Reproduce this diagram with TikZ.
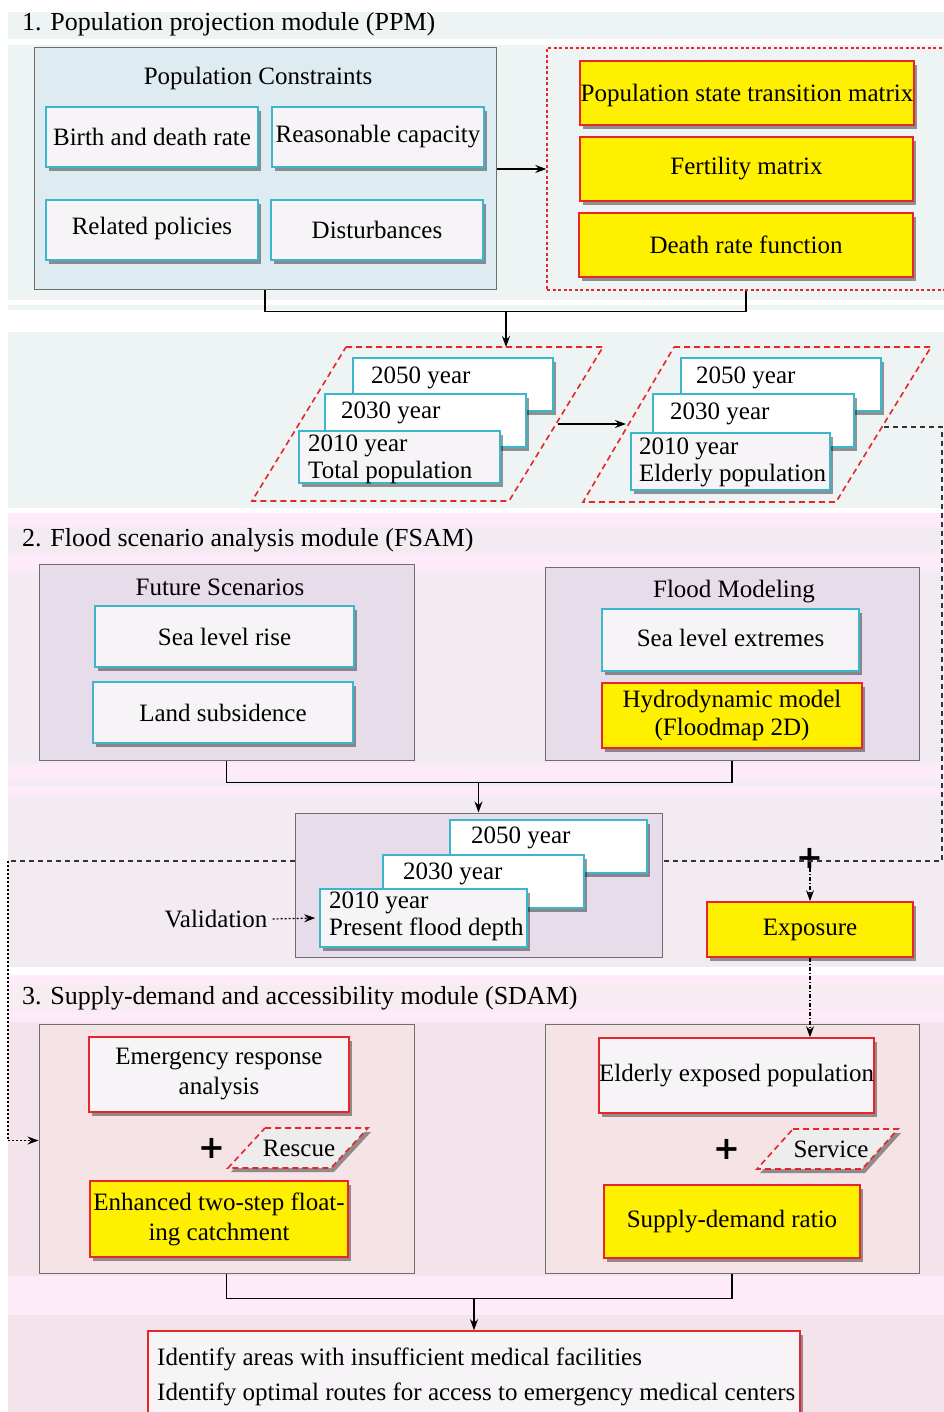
\documentclass[tikz,border=0pt]{standalone}
\usepackage{fontspec}
\setmainfont{Liberation Serif}
\newfontfamily\plusfont{DejaVu Sans}
\usetikzlibrary{arrows.meta,shadows}

\definecolor{bandteal}{RGB}{238,243,243}
\definecolor{consblue}{RGB}{222,235,240}
\definecolor{boxfill}{RGB}{246,244,246}
\definecolor{boxcyan}{RGB}{61,181,203}
\definecolor{boxyellow}{RGB}{255,240,0}
\definecolor{boxred}{RGB}{232,38,42}
\definecolor{bandpink}{RGB}{253,235,250}
\definecolor{bandlav}{RGB}{242,236,242}
\definecolor{lavbox}{RGB}{231,221,234}
\definecolor{bandmauve}{RGB}{243,228,236}
\definecolor{mauvebox}{RGB}{245,227,230}
\definecolor{framegray}{RGB}{110,110,110}
\definecolor{pargray}{RGB}{238,237,238}

\tikzset{
  txt/.style={font=\fontsize{25}{29}\selectfont, inner sep=0pt},
  heading/.style={font=\fontsize{26}{30}\selectfont, inner sep=0pt, anchor=west},
  container/.style={draw=framegray, line width=1pt},
  shade box/.style={line width=1.6pt, drop shadow={shadow xshift=3pt, shadow yshift=-4pt, fill=black, opacity=0.4}},
  cyanbox/.style={shade box, draw=boxcyan, fill=boxfill},
  whitebox/.style={shade box, draw=boxcyan, fill=white},
  yellowbox/.style={shade box, draw=boxred, fill=boxyellow},
  redbox/.style={shade box, draw=boxred, fill=boxfill},
  reddots/.style={draw=boxred, line width=1.4pt, dash pattern=on 3pt off 2.5pt},
  pardash/.style={draw=boxred, line width=1.6pt, dash pattern=on 6pt off 4pt},
  link/.style={line width=1.3pt},
  tip/.style={-{Stealth[length=11pt,width=8pt]}},
  dashline/.style={line width=1.3pt, draw=black!80, dash pattern=on 5pt off 4pt},
  dotline/.style={line width=1.2pt, dash pattern=on 2pt off 2pt},
  dashdotline/.style={line width=1.2pt, dash pattern=on 4pt off 2pt on 1pt off 2pt},
  plussign/.style={font=\plusfont\bfseries\fontsize{32}{32}\selectfont, inner sep=0pt}
}

\begin{document}
\begin{tikzpicture}[x=1pt,y=-1pt]
\useasboundingbox (0,0) rectangle (944,1412);

% background bands
\fill[bandteal] (8,12) rectangle (944,39);
\fill[bandteal] (8,45) rectangle (944,300);
\fill[bandteal] (8,305) rectangle (944,310);
\fill[bandteal] (8,332) rectangle (944,508);
\fill[bandpink] (8,513) rectangle (944,527);
\fill[bandlav] (8,527) rectangle (944,553);
\fill[bandpink] (8,553) rectangle (944,572);
\fill[bandlav] (8,572) rectangle (944,763);
\fill[bandpink] (8,763) rectangle (944,797);
\fill[bandlav] (8,780) rectangle (944,786);
\fill[bandlav] (8,797) rectangle (944,967);
\fill[bandpink] (8,975) rectangle (944,985);
\fill[bandmauve!70] (8,985) rectangle (944,1012);
\fill[bandpink] (8,1012) rectangle (944,1022);
\fill[bandmauve] (8,1022) rectangle (944,1276);
\fill[bandpink] (8,1276) rectangle (944,1315);
\fill[bandmauve] (8,1315) rectangle (944,1412);

% 1. PPM
\node[heading] (ppm) at (22,24) {1. Population projection module (PPM)};
\node[container, fill=consblue, minimum width=462pt, minimum height=242pt] (cons) at (265,169) {};
\node[txt] (constitle) at (258,78) {Population Constraints};
\node[cyanbox, minimum width=212pt, minimum height=60pt] (birth) at (152,137) {};
\node[txt] at (birth) {Birth and death rate};
\node[cyanbox, minimum width=212pt, minimum height=60pt] (capacity) at (378,137) {};
\node[txt] at (capacity) {Reasonable capacity};
\node[cyanbox, minimum width=212pt, minimum height=60pt] (policies) at (152,230) {};
\node[txt] at ([yshift=2pt]policies) {Related policies};
\node[cyanbox, minimum width=212pt, minimum height=60pt] (disturb) at (377,230) {};
\node[txt] at (disturb) {Disturbances};

\node[reddots, minimum width=398pt, minimum height=242pt] (matbox) at (746,169) {};
\node[yellowbox, minimum width=334pt, minimum height=64pt] (tmat) at (747,93) {};
\node[txt] at ([yshift=-2pt]tmat) {Population state transition matrix};
\node[yellowbox, minimum width=333pt, minimum height=64pt] (fert) at (746.5,169) {};
\node[txt] at (fert) {Fertility matrix};
\node[yellowbox, minimum width=334pt, minimum height=64pt] (deathf) at (746,245) {};
\node[txt] at (deathf) {Death rate function};

\draw[link, tip] (cons.east) -- (matbox.west);
\draw[link] (cons.south) -- ++(0,21) -| (matbox.south);
\coordinate (ppmjoin) at (506,311);

% projected populations
\draw[pardash] (346,347) -- (603,347) -- (509,501) -- (252,501) -- cycle;
\coordinate (totN) at (506,347);
\coordinate (totE) at (558,424);
\node[whitebox, minimum width=200pt, minimum height=53pt] (tot50) at (453,384.5) {};
\node[txt, anchor=west] at (371,378) {2050 year};
\node[whitebox, minimum width=201pt, minimum height=53pt] (tot30) at (425.5,420.5) {};
\node[txt, anchor=west] at (341,413) {2030 year};
\node[cyanbox, minimum width=201pt, minimum height=52pt] (tot10) at (399.5,457) {};
\node[txt, anchor=west, align=left, font=\fontsize{25}{27}\selectfont] at (308,459) {2010 year\\Total population};

\draw[pardash] (674,347) -- (931,347) -- (836,502) -- (583,502) -- cycle;
\coordinate (eldW) at (626,424);
\coordinate (eldE) at (884,427);
\node[whitebox, minimum width=200pt, minimum height=53pt] (eld50) at (781,384.5) {};
\node[txt, anchor=west] at (696,378) {2050 year};
\node[whitebox, minimum width=201pt, minimum height=53pt] (eld30) at (753.5,420.5) {};
\node[txt, anchor=west] at (670,414) {2030 year};
\node[cyanbox, minimum width=199pt, minimum height=57pt] (eld10) at (730.5,461.5) {};
\node[txt, anchor=west, align=left, font=\fontsize{25}{27}\selectfont] at (639,462) {2010 year\\Elderly population};

\draw[link, tip] (ppmjoin) -- (totN);
\draw[link, tip] (totE) -- (eldW);

% 2. FSAM
\node[heading] (fsam) at (22,540) {2. Flood scenario analysis module (FSAM)};
\node[container, fill=lavbox, minimum width=375pt, minimum height=196pt] (futbox) at (226.5,662) {};
\node[txt] at (220,587) {Future Scenarios};
\node[cyanbox, minimum width=259pt, minimum height=61pt] (slr) at (224.5,636.5) {};
\node[txt] at (slr) {Sea level rise};
\node[cyanbox, minimum width=260pt, minimum height=61pt] (subs) at (223,712.5) {};
\node[txt] at (subs) {Land subsidence};

\node[container, fill=lavbox, minimum width=374pt, minimum height=193pt] (fmbox) at (732,663.5) {};
\node[txt] at (734,592) {Flood Modeling};
\node[cyanbox, minimum width=257pt, minimum height=62pt] (sle) at (730.5,640) {};
\node[txt] at ([yshift=2pt]sle) {Sea level extremes};
\node[yellowbox, minimum width=260pt, minimum height=65pt] (hydro) at (732,715.5) {};
\node[txt, align=center, font=\fontsize{25}{28}\selectfont] at (hydro) {Hydrodynamic model\\(Floodmap 2D)};

\draw[link] (futbox.south) -- ++(0,22) -| (fmbox.south);
\coordinate (fsamjoin) at (478.5,782);

\node[container, fill=lavbox, minimum width=367pt, minimum height=144pt] (depthbox) at (478.5,885) {};
\node[whitebox, minimum width=197pt, minimum height=53pt] (dep50) at (548.5,846.5) {};
\node[txt, anchor=west] at (471,838) {2050 year};
\node[whitebox, minimum width=201pt, minimum height=53pt] (dep30) at (483.5,881.5) {};
\node[txt, anchor=west] at (403,874) {2030 year};
\node[cyanbox, minimum width=207pt, minimum height=58pt] (dep10) at (423.5,918) {};
\node[txt, anchor=west, align=left, font=\fontsize{25}{27}\selectfont] at (329,916.5) {2010 year\\Present flood depth};
\draw[link, tip] (fsamjoin) -- (depthbox.north);

\node[txt] (valid) at (216,919) {Validation};
\draw[dotline, tip] ([xshift=5pt]valid.east) -- ([xshift=-4pt]dep10.west);

\node[plussign] (plus) at (810,858) {+};
\node[yellowbox, minimum width=206pt, minimum height=55pt] (expo) at (810,929.5) {};
\node[txt] at (expo) {Exposure};

\coordinate (rcorner) at (942,861);
\coordinate (lcorner) at (8,861);
\draw[dashline] (eldE) -| (rcorner) -- (depthbox.east |- rcorner);
\draw[dashline] (depthbox.west |- lcorner) -- (lcorner);
\draw[dashdotline, tip] (plus.south) -- (expo.north);

% 3. SDAM
\node[heading] (sdam) at (22,998) {3. Supply-demand and accessibility module (SDAM)};
\node[container, fill=mauvebox, minimum width=375pt, minimum height=249pt] (erbox) at (226.5,1148.5) {};
\node[redbox, minimum width=260pt, minimum height=75pt] (emerg) at (219,1074.5) {};
\node[txt, align=center, font=\fontsize{25}{30}\selectfont] at (emerg) {Emergency response\\analysis};
\node[plussign] (plusA) at (212,1148) {+};
\draw[pardash, fill=pargray, drop shadow={shadow xshift=3pt, shadow yshift=-4pt, fill=black, opacity=0.4}] (265,1128) -- (368,1128) -- (331,1168) -- (228,1168) -- cycle;
\node[txt] (rescue) at (299,1148) {Rescue};
\node[yellowbox, minimum width=258pt, minimum height=76pt] (e2sfca) at (219,1219) {};
\node[txt, align=center, font=\fontsize{25}{30}\selectfont] at (e2sfca) {Enhanced two-step float-\\ing catchment};

\node[container, fill=mauvebox, minimum width=374pt, minimum height=249pt] (sdbox) at (732,1148.5) {};
\node[redbox, minimum width=275pt, minimum height=75pt] (elexp) at (736.5,1075.5) {};
\node[txt] at (elexp) {Elderly exposed population};
\node[plussign] (plusB) at (727,1149) {+};
\draw[pardash, fill=pargray, drop shadow={shadow xshift=3pt, shadow yshift=-4pt, fill=black, opacity=0.4}] (793,1129) -- (898,1129) -- (862,1169) -- (757,1169) -- cycle;
\node[txt] (service) at (831,1149) {Service};
\node[yellowbox, minimum width=256pt, minimum height=73pt] (sdr) at (732,1221.5) {};
\node[txt] at (sdr) {Supply-demand ratio};

\draw[dotline, tip] (lcorner) |- ([yshift=8pt]erbox.west);
\draw[dashdotline, tip] (expo.south) -- (expo.south |- elexp.north);

\draw[link] (erbox.south) -- ++(0,25) -| (sdbox.south);
\coordinate (sdamjoin) at (474,1298);
\node[redbox, minimum width=652pt, minimum height=100pt] (result) at (474,1381) {};
\node[txt, anchor=west, align=left, font=\fontsize{25}{35}\selectfont] at (157,1377) {Identify areas with insufficient medical facilities\\Identify optimal routes for access to emergency medical centers};
\draw[link, tip] (sdamjoin) -- (result.north);
\end{tikzpicture}
\end{document}
